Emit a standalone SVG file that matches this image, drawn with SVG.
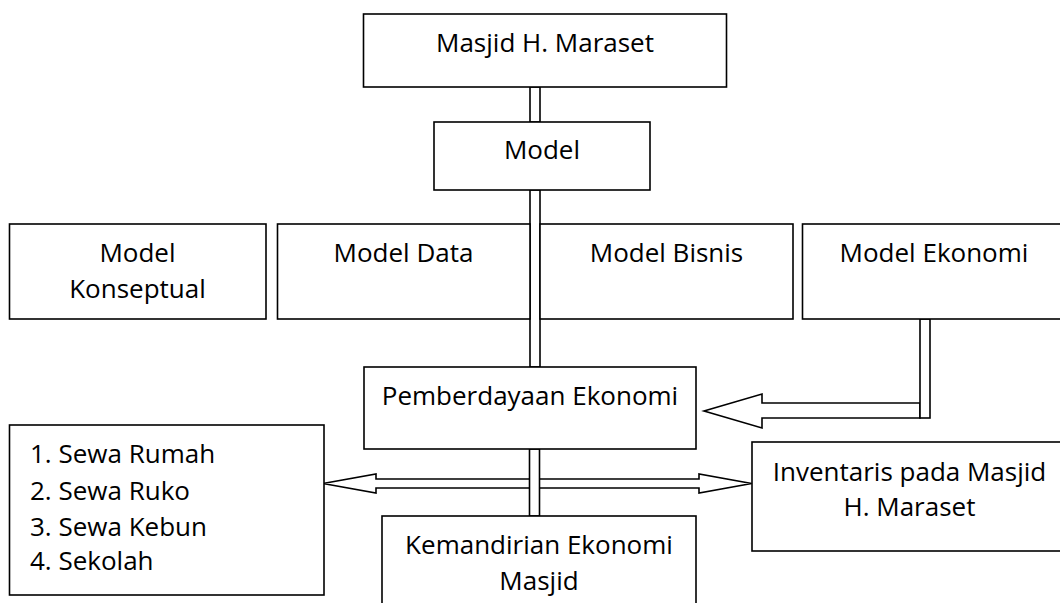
<svg xmlns="http://www.w3.org/2000/svg" width="1060" height="603" viewBox="0 0 1060 603">
<style>
.box{fill:#fff;stroke:#000;stroke-width:1.6}
.con{fill:#fff;stroke:#000;stroke-width:1.6;stroke-linejoin:miter}
text{font-family:"Open Sans","Noto Sans",sans-serif;font-size:26px;fill:#000}
.c{text-anchor:middle}
</style>
<rect width="1060" height="603" fill="#fff"/>
<g id="connectors">
<rect class="con" x="530" y="87" width="10" height="35"/>
<rect class="con" x="530" y="190" width="10" height="177"/>
<polygon class="con" points="920,403 762,403 762,394 704,411 762,428 762,418 920,418"/>
<rect class="con" x="920" y="319" width="10" height="99"/>
<polygon class="con" points="323,483.5 376,474 376,479 699,479 699,474 751.7,483.5 699,493 699,488 376,488 376,493"/>
<rect class="con" x="529.5" y="449" width="10" height="67"/>
</g>
<g id="masjid">
<rect class="box" x="363.5" y="14" width="363" height="73"/>
<text class="c" x="545" y="52">Masjid H. Maraset</text>
</g>
<g id="model">
<rect class="box" x="434" y="122" width="216" height="68"/>
<text class="c" x="542" y="159">Model</text>
</g>
<g id="model-konseptual">
<rect class="box" x="9.5" y="224" width="256.5" height="95"/>
<text class="c" x="137.5" y="262">Model</text>
<text class="c" x="137.5" y="298">Konseptual</text>
</g>
<g id="model-data">
<rect class="box" x="277.5" y="224" width="252.5" height="95"/>
<text class="c" x="403.5" y="262">Model Data</text>
</g>
<g id="model-bisnis">
<rect class="box" x="540" y="224" width="253" height="95"/>
<text class="c" x="666.5" y="262">Model Bisnis</text>
</g>
<g id="model-ekonomi">
<rect class="box" x="802.5" y="224" width="264" height="95"/>
<text class="c" x="934" y="262">Model Ekonomi</text>
</g>
<g id="pemberdayaan">
<rect class="box" x="364" y="367" width="332" height="82"/>
<text class="c" x="530" y="405">Pemberdayaan Ekonomi</text>
</g>
<g id="list">
<rect class="box" x="9.5" y="425" width="314.5" height="170"/>
<text x="30" y="463">1. Sewa Rumah</text>
<text x="30" y="499.5">2. Sewa Ruko</text>
<text x="30" y="535.5">3. Sewa Kebun</text>
<text x="30" y="570">4. Sekolah</text>
</g>
<g id="inventaris">
<rect class="box" x="752" y="442" width="315" height="109"/>
<text class="c" x="909.5" y="481">Inventaris pada Masjid</text>
<text class="c" x="909.5" y="516">H. Maraset</text>
</g>
<g id="kemandirian">
<rect class="box" x="382" y="516" width="314" height="100"/>
<text class="c" x="539" y="554">Kemandirian Ekonomi</text>
<text class="c" x="539" y="590">Masjid</text>
</g>
</svg>
